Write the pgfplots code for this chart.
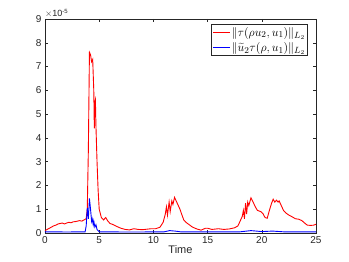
\documentclass[border=0pt]{standalone}
\usepackage{pgfplots}
\pgfplotsset{compat=1.18}
\usepackage{fontspec}
\setmainfont{Liberation Sans}
\definecolor{axgray}{rgb}{0.15,0.15,0.15}
\begin{document}
\begin{tikzpicture}
\path[use as bounding box] (-45pt,-29pt) rectangle (304pt,233pt);
\begin{axis}[
  at={(0pt,0pt)}, anchor=south west,
  scale only axis, width=271pt, height=214pt,
  xmin=0, xmax=25, ymin=0, ymax=9,
  xtick={0,5,10,15,20,25}, ytick={0,1,...,9},
  tick align=inside, tickpos=both,
  major tick length=3pt,
  axis line style={axgray, line width=0.4pt},
  every tick/.style={axgray, line width=0.4pt},
  tick label style={font=\fontsize{10}{12}\selectfont, text=axgray},
  /pgf/number format/assume math mode=true,
  xlabel={Time}, xlabel style={font=\fontsize{11}{13}\selectfont, text=axgray, yshift=5pt},
  legend style={at={(0.97,0.975)}, anchor=north east, draw=axgray, line width=0.4pt, font=\fontsize{12.5}{15}\selectfont, inner sep=1.5pt, row sep=3pt,
    nodes={inner sep=1pt}},
  legend cell align=left,
  clip mode=individual,
]
\addplot[red, line width=0.9pt] coordinates {
(0,0.10)(0.2,0.15)(0.4,0.2)(0.6,0.25)(0.8,0.3)(1.0,0.33)(1.2,0.38)(1.4,0.40)(1.6,0.42)(1.8,0.38)
(2.0,0.42)(2.2,0.45)(2.4,0.43)(2.6,0.47)(2.8,0.48)(3.0,0.50)(3.2,0.52)(3.4,0.50)(3.6,0.55)(3.8,0.60)
(3.9,1.0)(4.0,3.5)(4.1,7.6)(4.2,7.5)(4.3,7.2)(4.4,7.3)(4.5,6.0)(4.55,4.4)(4.6,5.5)(4.65,5.6)
(4.7,4.5)(4.8,3.0)(4.9,1.8)(5.0,1.0)(5.2,0.65)(5.4,0.55)(5.6,0.65)(5.8,0.5)(6.0,0.40)(6.3,0.35)
(6.6,0.28)(7.0,0.20)(7.4,0.15)(7.8,0.13)(8.2,0.18)(8.6,0.15)(9.0,0.14)(9.4,0.16)(9.8,0.18)(10.2,0.18)
(10.6,0.24)(10.9,0.45)(11.1,0.8)(11.2,1.1)(11.3,0.75)(11.45,1.3)(11.55,0.9)(11.7,1.35)(11.8,1.2)(11.95,1.5)
(12.1,1.35)(12.3,1.15)(12.45,1.0)(12.6,0.8)(12.8,0.55)(13.0,0.45)(13.3,0.35)(13.6,0.25)(14.0,0.17)(14.4,0.12)
(14.8,0.2)(15.0,0.2)(15.4,0.15)(16,0.18)(16.5,0.15)(17.0,0.17)(17.5,0.22)(17.8,0.3)(18.0,0.5)(18.2,0.7)
(18.3,0.95)(18.4,0.6)(18.5,1.25)(18.6,0.8)(18.7,1.3)(18.8,1.15)(19.0,1.48)(19.2,1.3)(19.4,1.1)(19.6,0.95)
(19.9,0.9)(20.1,0.82)(20.3,0.65)(20.5,0.62)(20.7,0.95)(20.9,1.25)(21.05,1.42)(21.2,1.3)(21.35,1.38)(21.5,1.3)
(21.6,1.35)(21.8,1.15)(22.0,0.95)(22.2,0.85)(22.5,0.75)(22.8,0.68)(23.1,0.6)(23.4,0.58)(23.7,0.52)(24.0,0.4)
(24.2,0.33)(24.5,0.32)(24.8,0.33)(25,0.37)
};
\addlegendentry{$\|\tau(\rho u_2,u_1)\|_{L_2}$}
\addplot[blue, line width=0.9pt] coordinates {
(0,0.05)(1,0.05)(2,0.04)(3,0.05)(3.7,0.05)(3.8,0.3)(3.9,1.05)(4.0,0.6)(4.1,1.45)(4.2,1.0)
(4.3,0.5)(4.35,0.6)(4.45,0.35)(4.5,0.5)(4.6,0.25)(4.7,0.35)(4.8,0.15)(4.9,0.1)(5.0,0.05)(8,0.04)
(11,0.05)(11.5,0.1)(12,0.08)(12.5,0.05)(18,0.05)(19,0.1)(20,0.06)(21,0.08)(22,0.05)(25,0.05)
};
\addlegendentry{$\|\widetilde{u}_2\tau(\rho,u_1)\|_{L_2}$}
\node[anchor=south west, font=\fontsize{9}{10}\selectfont, text=axgray, inner sep=0pt] at (rel axis cs:0,1) [yshift=1pt] {$\times$10\textsuperscript{-5}};
\end{axis}
\end{tikzpicture}
\end{document}
